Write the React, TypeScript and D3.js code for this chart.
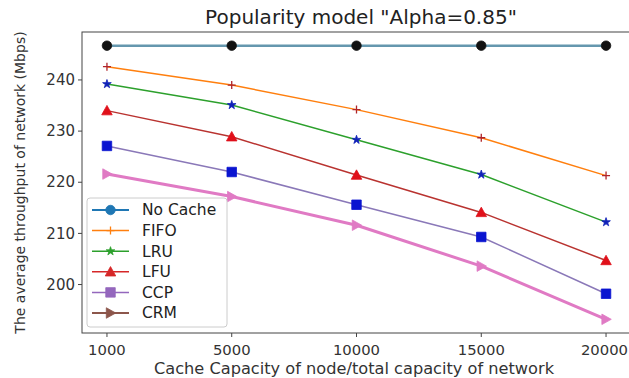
import React, { useEffect, useRef } from "react";
import * as d3 from "d3";

const categories = ["1000", "5000", "10000", "15000", "20000"];
const noCache = [246.7, 246.7, 246.7, 246.7, 246.7];
const fifo = [242.6, 239.0, 234.2, 228.7, 221.3];
const lru = [239.2, 235.1, 228.3, 221.5, 212.2];
const lfu = [234.0, 228.9, 221.4, 214.1, 204.7];
const ccp = [227.1, 222.0, 215.6, 209.3, 198.2];
const crm = [221.6, 217.2, 211.6, 203.6, 193.2];
const yTicks = [200, 210, 220, 230, 240];
const title = 'Popularity model "Alpha=0.85"';
const xLabel = "Cache Capacity of node/total capacity of network";
const yLabel = "The average throughput of network (Mbps)";

type Series = {
  name: string;
  values: number[];
  line: string;
  width: number;
  marker: string;
  markerColor: string;
  legendColor: string;
  size: number;
};

const series: Series[] = [
  { name: "No Cache", values: noCache, line: "#6597ae", width: 2.5, marker: "circle", markerColor: "#111", legendColor: "#1f77b4", size: 9.5 },
  { name: "FIFO", values: fifo, line: "#ff7f0e", width: 1.5, marker: "plus", markerColor: "#b0242a", legendColor: "#ff7f0e", size: 8 },
  { name: "LRU", values: lru, line: "#2ca02c", width: 1.5, marker: "star", markerColor: "#1022b8", legendColor: "#2ca02c", size: 8.5 },
  { name: "LFU", values: lfu, line: "#b93330", width: 1.5, marker: "tri", markerColor: "#e0101a", legendColor: "#d62728", size: 10.5 },
  { name: "CCP", values: ccp, line: "#8a78b8", width: 1.5, marker: "square", markerColor: "#0a14d0", legendColor: "#9467bd", size: 9.5 },
  { name: "CRM", values: crm, line: "#e07ac4", width: 3, marker: "right", markerColor: "#e07ac4", legendColor: "#8c564b", size: 10.5 },
];

function markerPath(kind: string, s: number): string {
  const h = s / 2;
  switch (kind) {
    case "circle":
      return d3.symbol(d3.symbolCircle, Math.PI * h * h)() as string;
    case "square":
      return `M${-h},${-h}H${h}V${h}H${-h}Z`;
    case "tri":
      return `M0,${-h}L${h},${h * 0.8}L${-h},${h * 0.8}Z`;
    case "right":
      return `M${h},0L${-h * 0.8},${-h}L${-h * 0.8},${h}Z`;
    case "star":
      return d3.symbol(d3.symbolStar, s * s * 0.32)() as string;
    case "plus":
      return `M${-h},0H${h}M0,${-h}V${h}`;
  }
  return "";
}

export default function App() {
  const ref = useRef<SVGSVGElement>(null);
  useEffect(() => {
    document.body.style.margin = "0";
    const svg = d3.select(ref.current);
    svg.selectAll("*").remove();
    const left = 82, right = 631, top = 32, bottom = 333;
    const allVals = series.flatMap((s) => s.values);
    const mn = d3.min(allVals)!, mx = d3.max(allVals)!;
    const pad = (mx - mn) * 0.05;
    const x = d3.scaleLinear().domain([-0.2, categories.length - 1 + 0.2]).range([left, right]);
    const y = d3.scaleLinear().domain([mn - pad, mx + pad]).range([bottom, top]);
    const font = "DejaVu Sans, sans-serif";

    svg.append("rect").attr("width", 629).attr("height", 378).attr("fill", "#fff");

    const line = d3.line<number>().x((_, i) => x(i)).y((d) => y(d));
    series.forEach((s) => {
      svg.append("path").datum(s.values).attr("d", line).attr("fill", "none")
        .attr("stroke", s.line).attr("stroke-width", s.width).attr("stroke-linejoin", "round");
      s.values.forEach((v, i) => {
        svg.append("path").attr("d", markerPath(s.marker, s.size))
          .attr("transform", `translate(${x(i)},${y(v)})`)
          .attr("fill", s.marker === "plus" ? "none" : s.markerColor)
          .attr("stroke", s.markerColor)
          .attr("stroke-width", s.marker === "plus" ? 1.3 : 0.8);
      });
    });

    // frame
    svg.append("rect").attr("x", left).attr("y", top).attr("width", right - left).attr("height", bottom - top)
      .attr("fill", "none").attr("stroke", "#444").attr("stroke-width", 1);

    // y ticks
    yTicks.forEach((t) => {
      svg.append("line").attr("x1", left - 4).attr("x2", left).attr("y1", y(t)).attr("y2", y(t)).attr("stroke", "#444");
      svg.append("text").attr("x", left - 7).attr("y", y(t)).attr("dy", "0.35em").attr("text-anchor", "end")
        .attr("font-family", font).attr("font-size", 15).attr("fill", "#333").text(String(t));
    });
    // x ticks
    categories.forEach((c, i) => {
      svg.append("line").attr("x1", x(i)).attr("x2", x(i)).attr("y1", bottom).attr("y2", bottom + 4).attr("stroke", "#444");
      svg.append("text").attr("x", Math.min(x(i), 628 - 0.318 * 14.8 * c.length)).attr("y", bottom + 17).attr("dy", "0.35em").attr("text-anchor", "middle")
        .attr("font-family", font).attr("font-size", 14.8).attr("fill", "#333").text(c);
    });

    svg.append("text").attr("x", 361).attr("y", 24).attr("text-anchor", "middle")
      .attr("font-family", font).attr("font-size", 20).attr("fill", "#222").text(title);
    svg.append("text").attr("x", 354).attr("y", 374).attr("text-anchor", "middle")
      .attr("font-family", font).attr("font-size", 16.2).attr("fill", "#333").text(xLabel);
    svg.append("text").attr("transform", `translate(25,${(top + bottom) / 2}) rotate(-90)`).attr("text-anchor", "middle")
      .attr("font-family", font).attr("font-size", 14).attr("fill", "#333").text(yLabel);

    // legend
    const lx = 87, ly = 198, lw = 140, lh = 129;
    svg.append("rect").attr("x", lx).attr("y", ly).attr("width", lw).attr("height", lh).attr("rx", 3)
      .attr("fill", "#fff").attr("fill-opacity", 0.8).attr("stroke", "#ccc");
    series.forEach((s, i) => {
      const yy = 210 + i * 20.6;
      svg.append("line").attr("x1", 92).attr("x2", 129).attr("y1", yy).attr("y2", yy)
        .attr("stroke", s.legendColor).attr("stroke-width", s.name === "No Cache" || s.name === "CRM" ? 2 : 1.5);
      svg.append("path").attr("d", markerPath(s.marker, s.size))
        .attr("transform", `translate(110.5,${yy})`)
        .attr("fill", s.marker === "plus" ? "none" : s.legendColor)
        .attr("stroke", s.legendColor).attr("stroke-width", s.marker === "plus" ? 1.3 : 0.8);
      svg.append("text").attr("x", 142).attr("y", yy).attr("dy", "0.35em")
        .attr("font-family", font).attr("font-size", 15.5).attr("fill", "#222").text(s.name);
    });
  }, []);
  return <svg ref={ref} width={629} height={378} style={{ display: "block" }} />;
}
